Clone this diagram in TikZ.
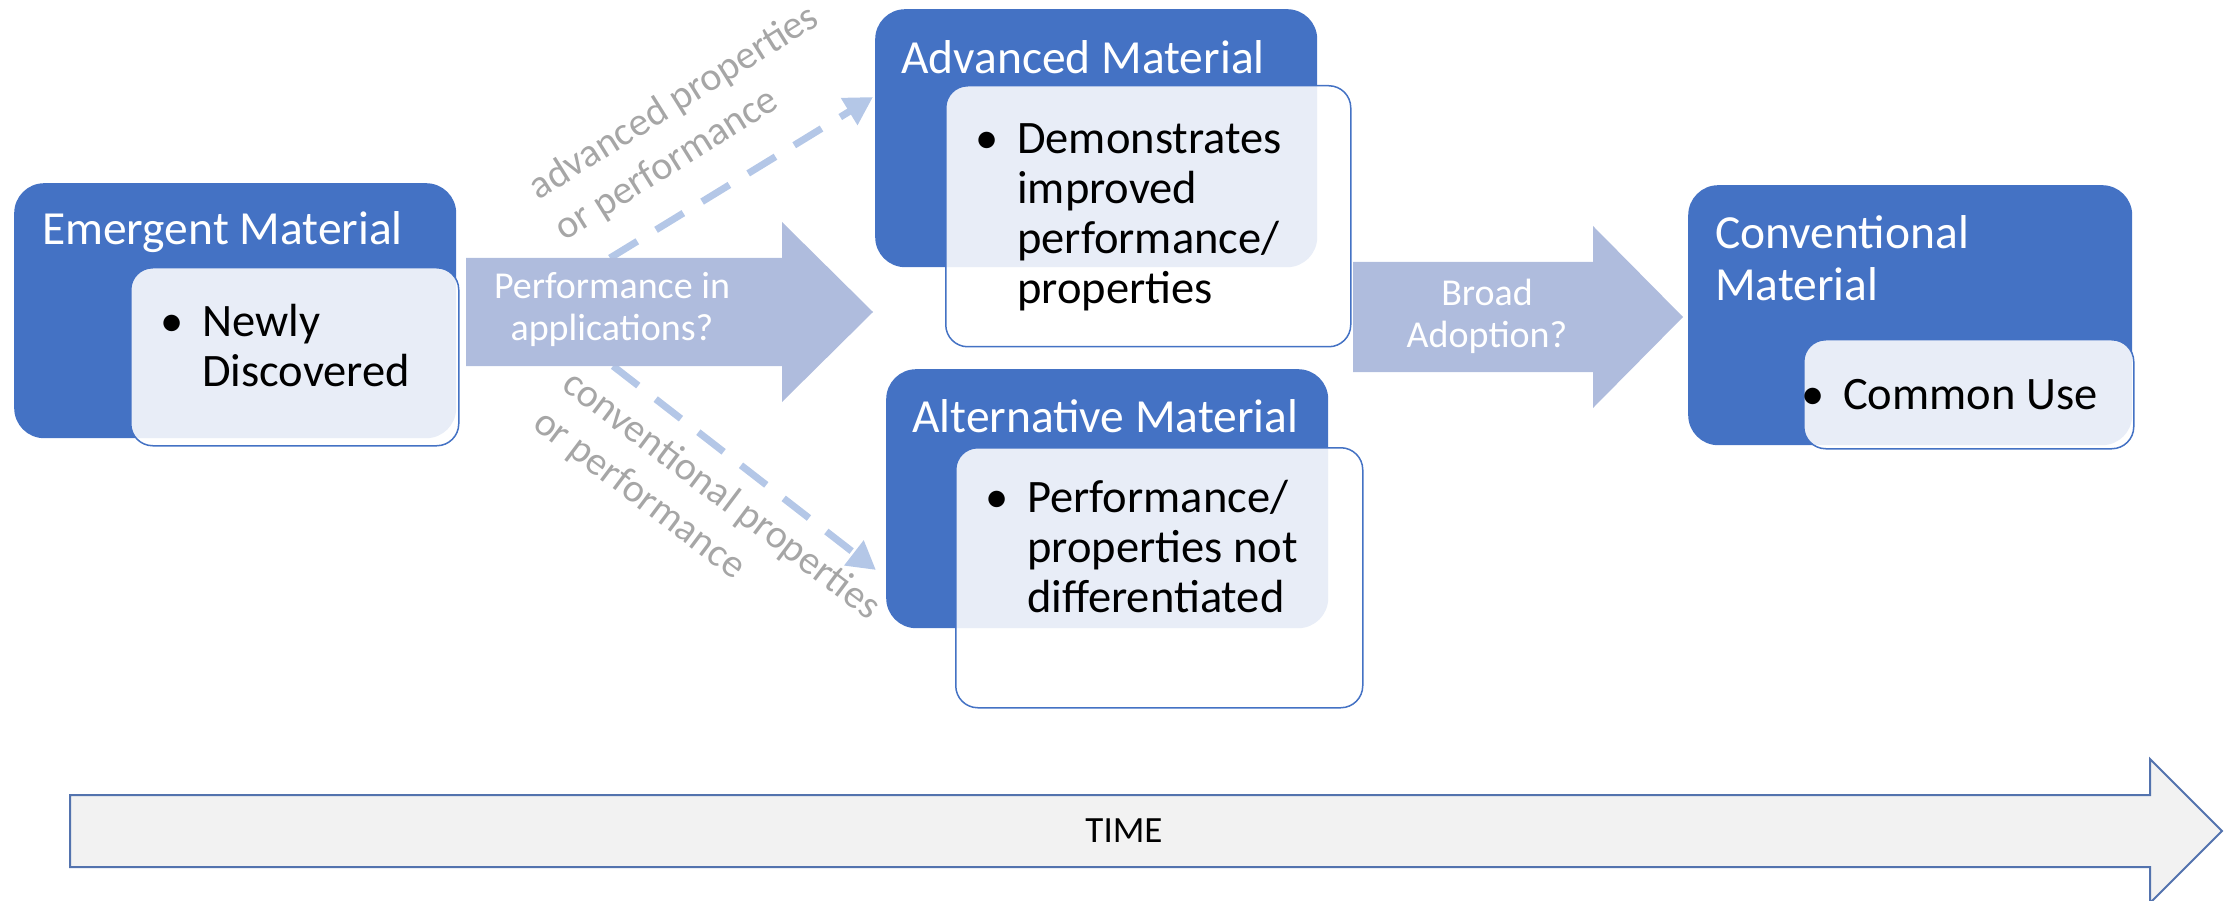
\documentclass[tikz,border=0pt]{standalone}
\usepackage{fontspec}
\setmainfont{Carlito}
\usetikzlibrary{arrows.meta}
\definecolor{mblue}{HTML}{4472C4}
\definecolor{marrow}{HTML}{AFBCDD}
\definecolor{mdash}{HTML}{B4C7E7}
\definecolor{mgray}{HTML}{A6A6A6}
\definecolor{tfill}{HTML}{F2F2F2}
\definecolor{tline}{HTML}{5373AE}
\begin{document}
\begin{tikzpicture}[x=1pt,y=-1pt,
  bluebox/.style={fill=mblue, draw=none, rounded corners=30pt, anchor=north west, inner sep=0pt},
  lightbox/.style={fill=white, fill opacity=0.88, draw=mblue, line width=1.5pt, rounded corners=22pt, anchor=north west, inner sep=0pt},
  titletext/.style={text=white, font=\fontsize{47.5}{52}\selectfont, anchor=base west, inner sep=0pt, align=left},
  bullettext/.style={text=black, font=\fontsize{46.5}{50}\selectfont, anchor=base west, inner sep=0pt},
  bigarrow/.style={fill=marrow, draw=none},
  arrowtext/.style={text=white, font=\fontsize{38}{42}\selectfont, align=center, inner sep=0pt},
  dasharrow/.style={draw=mdash, line width=7pt, dash pattern=on 32pt off 22pt, -{Triangle[length=28pt,width=30pt]}},
  pathlabel/.style={text=mgray, font=\fontsize{40}{49}\selectfont, align=left, inner sep=0pt, anchor=west},
  timearrow/.style={fill=tfill, draw=tline, line width=2pt},
]
\useasboundingbox (0,0) rectangle (2236,901);

% dashed connectors (behind the big arrow)
\coordinate (uS) at (610,258);
\coordinate (uE) at (873,97);
\coordinate (lS) at (613,366);
\coordinate (lE) at (876,570);
\draw[dasharrow] (uS) -- (uE);
\draw[dasharrow] (lS) -- (lE);
\node[pathlabel, rotate=32] (lblA) at (546,212) {advanced properties\\or performance};
\node[pathlabel, rotate=-37] (lblC) at (552,399) {conventional properties\\or performance};

% big arrow 1
\fill[bigarrow] (466,258) -- (782,258) -- (782,222) -- (873,312) -- (782,402) -- (782,366) -- (466,366) -- cycle;
\node[arrowtext] (perf) at (612,309) {Performance in\\applications?};

% big arrow 2
\fill[bigarrow] (1353,262) -- (1593,262) -- (1593,226) -- (1683,317) -- (1593,408) -- (1593,372) -- (1353,372) -- cycle;
\node[arrowtext] (broad) at (1487,316) {Broad\\Adoption?};

% Emergent
\node[bluebox, minimum width=442pt, minimum height=255pt] (emB) at (14,183) {};
\node[lightbox, minimum width=328pt, minimum height=178pt] (emL) at (130,267) {};
\node[titletext] (emT) at (42,245) {Emergent Material};
\node[bullettext] (emX) at (142,337) {\begin{tabular}[t]{@{}l@{}l@{}}\makebox[60pt]{\textbullet}&Newly\\&Discovered\end{tabular}};

% Advanced
\node[bluebox, minimum width=442pt, minimum height=258pt] (adB) at (875,9) {};
\node[lightbox, minimum width=405pt, minimum height=261pt] (adL) at (945,85) {};
\node[titletext] (adT) at (901,74) {Advanced Material};
\node[bullettext] (adX) at (957,154) {\begin{tabular}[t]{@{}l@{}l@{}}\makebox[60pt]{\textbullet}&Demonstrates\\&improved\\&performance/\\&properties\end{tabular}};

% Alternative
\node[bluebox, minimum width=442pt, minimum height=259pt] (alB) at (886,369) {};
\node[lightbox, minimum width=407pt, minimum height=260pt] (alL) at (955,447) {};
\node[titletext] (alT) at (912,432) {Alternative Material};
\node[bullettext] (alX) at (967,512) {\begin{tabular}[t]{@{}l@{}l@{}}\makebox[60pt]{\textbullet}&Performance/\\&properties not\\&differentiated\end{tabular}};

% Conventional
\node[bluebox, minimum width=444pt, minimum height=260pt] (coB) at (1688,185) {};
\node[lightbox, minimum width=330pt, minimum height=109pt] (coL) at (1803,339) {};
\node[titletext] (coT) at (1715,301) {Conventional\\Material};
\node[bullettext] (coX) at (1783,409) {\begin{tabular}[t]{@{}l@{}l@{}}\makebox[60pt]{\textbullet}&Common Use\end{tabular}};

% time arrow
\filldraw[timearrow] (70,795) -- (2150,795) -- (2150,759) -- (2222,831) -- (2150,903) -- (2150,867) -- (70,867) -- cycle;
\node[text=black, font=\fontsize{37}{42}\selectfont, inner sep=0pt] (time) at (1124,831) {TIME};
\end{tikzpicture}
\end{document}
